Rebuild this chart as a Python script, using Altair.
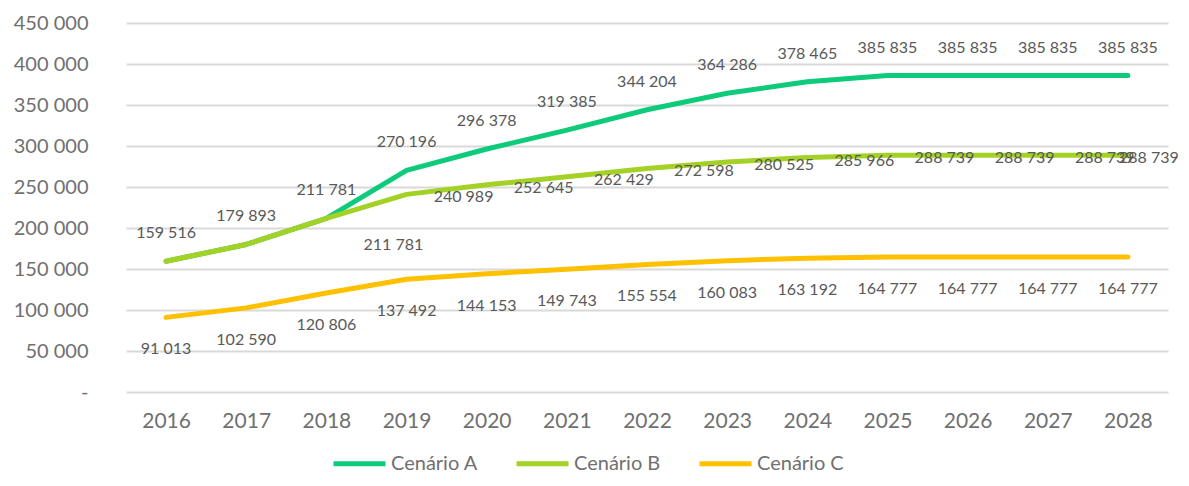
import altair as alt
import pandas as pd

years = [2016, 2017, 2018, 2019, 2020, 2021, 2022, 2023, 2024, 2025, 2026, 2027, 2028]
cen_a = [159516, 179893, 211781, 270196, 296378, 319385, 344204, 364286, 378465, 385835, 385835, 385835, 385835]
cen_b = [159516, 179893, 211781, 240989, 252645, 262429, 272598, 280525, 285966, 288739, 288739, 288739, 288739]
cen_c = [91013, 102590, 120806, 137492, 144153, 149743, 155554, 160083, 163192, 164777, 164777, 164777, 164777]
series_names = ["Cenário A", "Cenário B", "Cenário C"]
series_colors = ["#0ECB7B", "#A4D125", "#FFC000"]

rows = []
for name, vals in zip(series_names, [cen_a, cen_b, cen_c]):
    for y, v in zip(years, vals):
        rows.append({"Ano": str(y), "Série": name, "Valor": v,
                     "Rótulo": f"{v:,}".replace(",", " ")})
df = pd.DataFrame(rows)

FONT = "Lato"
x_enc = alt.X("Ano:O", scale=alt.Scale(type="point", padding=0.5),
              axis=alt.Axis(title=None, labelAngle=0, domain=False, ticks=False,
                            labelPadding=18, labelFontSize=21, labelColor="#707070",
                            labelFont=FONT, grid=False))
y_enc = alt.Y("Valor:Q", scale=alt.Scale(domain=[0, 450000], nice=False),
              axis=alt.Axis(title=None, values=list(range(0, 450001, 50000)),
                            domain=False, ticks=False, labelPadding=38,
                            labelFontSize=20, labelColor="#707070", labelFont=FONT,
                            gridColor="#D9D9D9", gridWidth=2,
                            labelExpr="datum.value == 0 ? '-' : replace(format(datum.value, ','), ',', ' ')"))
color_enc = alt.Color("Série:N",
                      scale=alt.Scale(domain=series_names, range=series_colors),
                      legend=alt.Legend(title=None, orient="none", direction="horizontal",
                                        legendX=205, legendY=412,
                                        symbolType="stroke", symbolSize=2704,
                                        symbolStrokeWidth=5, labelFontSize=20,
                                        labelFont=FONT, labelColor="#707070",
                                        labelOffset=3, columnPadding=28))

base = alt.Chart(df)
lines = base.mark_line(strokeWidth=5, strokeCap="round", strokeJoin="round").encode(
    x=x_enc, y=y_enc, color=color_enc)

txt = dict(fontSize=16, font=FONT, color="#595959", align="center", baseline="middle")
lab_a = base.transform_filter(alt.datum["Série"] == "Cenário A").mark_text(dy=-28, **txt).encode(
    x="Ano:O", y="Valor:Q", text="Rótulo:N")
lab_c = base.transform_filter(alt.datum["Série"] == "Cenário C").mark_text(dy=32, **txt).encode(
    x="Ano:O", y="Valor:Q", text="Rótulo:N")
lab_b_main = base.transform_filter(
    "datum['Série'] == 'Cenário B' && toNumber(datum.Ano) > 2018 && toNumber(datum.Ano) < 2028"
).mark_text(dx=57, dy=3, **txt).encode(x="Ano:O", y="Valor:Q", text="Rótulo:N")
lab_b_2018 = base.transform_filter(
    "datum['Série'] == 'Cenário B' && datum.Ano == '2018'"
).mark_text(dx=67, dy=27, **txt).encode(x="Ano:O", y="Valor:Q", text="Rótulo:N")
lab_b_2028 = base.transform_filter(
    "datum['Série'] == 'Cenário B' && datum.Ano == '2028'"
).mark_text(dx=21, dy=3, **txt).encode(x="Ano:O", y="Valor:Q", text="Rótulo:N")

chart = alt.layer(lines, lab_a, lab_b_main, lab_b_2018, lab_b_2028, lab_c).properties(
    width=1042, height=369,
    autosize=alt.AutoSizeParams(type="none"),
    padding={"left": 118, "top": 15, "right": 12, "bottom": 86},
).configure(background="white").configure_view(stroke=None)

chart.save("out.html", embed_options={"renderer": "svg", "actions": False})
